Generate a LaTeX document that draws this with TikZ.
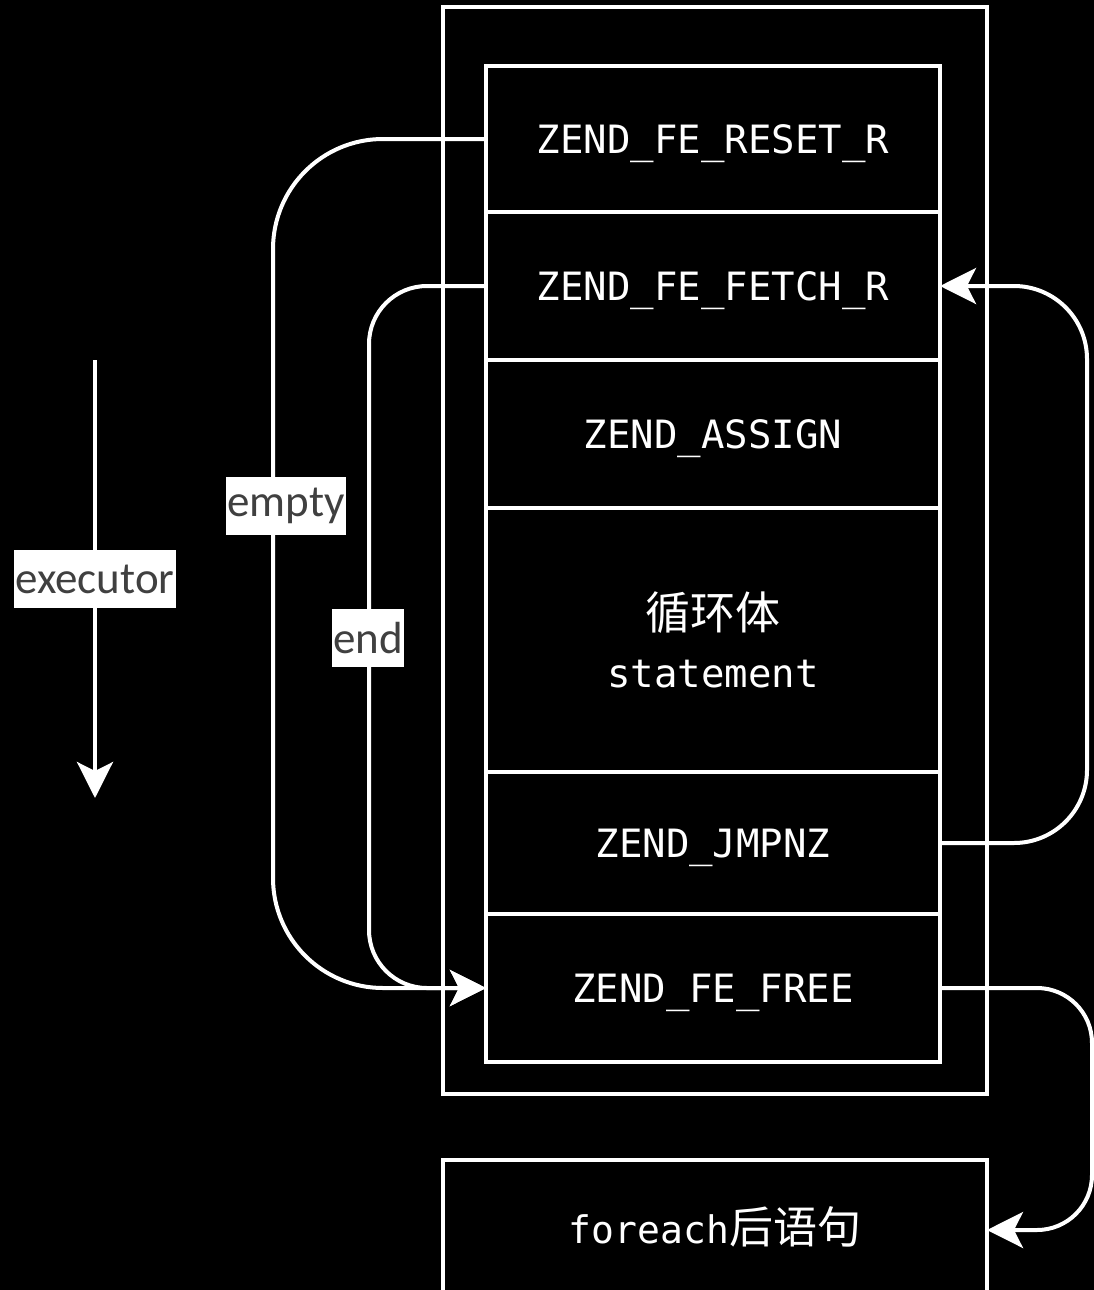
\documentclass[tikz,border=0pt]{standalone}
\usepackage{fontspec}
\setmonofont{DejaVu Sans Mono}
\setsansfont{Carlito}
\newfontfamily\cjk{Noto Sans CJK SC}
\usetikzlibrary{positioning,arrows.meta}

\tikzset{
  op/.style={draw=white, line width=4pt, outer sep=0pt, minimum width=454pt,
    text=white, align=center, text height=28pt, text depth=0pt,
    font=\ttfamily\fontsize{39}{58}\selectfont},
  flow/.style={draw=white, line width=4pt, -{Stealth[length=36pt,width=36pt,inset=9pt]}},
  tag/.style={fill=white, text=black!75, inner sep=1pt, minimum height=58pt,
    font=\sffamily\fontsize{45}{54}\selectfont}
}

\begin{document}
\begin{tikzpicture}[x=1pt,y=-1pt]
\fill[black] (0,0) rectangle (1094,1290);
\useasboundingbox (0,0) rectangle (1094,1290);

% opcodes
\draw[white, line width=4pt] (443,7) rectangle (987,1094);
\node[op, minimum height=146pt, anchor=north] (reset) at (713,66) {ZEND\_FE\_RESET\_R};
\node[op, minimum height=148pt, below=0pt of reset] (fetch) {ZEND\_FE\_FETCH\_R};
\node[op, minimum height=148pt, below=0pt of fetch] (assign) {ZEND\_ASSIGN};
\node[op, minimum height=264pt, below=0pt of assign, text height=, text depth=] (body) {{\cjk\fontsize{45}{58}\selectfont 循环体}\\statement};
\node[op, minimum height=142pt, below=0pt of body] (jmpnz) {ZEND\_JMPNZ};
\node[op, minimum height=148pt, below=0pt of jmpnz] (free) {ZEND\_FE\_FREE};
\node[op, minimum width=544pt, minimum height=140pt, anchor=north, text height=30pt, text depth=4pt,
  font=\ttfamily\fontsize{38}{42}\selectfont] (after) at (715,1160) {foreach{\cjk\fontsize{44}{44}\selectfont 后语句}};

% jumps
\draw[flow, rounded corners=110pt] (reset.west) -- ++(-213,0) |- (free.west);
\draw[flow, rounded corners=58pt] (fetch.west) -- ++(-117,0) |- (free.west);
\draw[flow, rounded corners=73pt] (jmpnz.east) -- ++(147,0) |- (fetch.east);
\draw[flow, rounded corners=55pt] (free.east) -- ++(152,0) |- (after.east);
\node[tag] (empty) at (286,506) {empty};
\node[tag] (end) at (368,638) {end};

% direction
\coordinate (start) at (95,360);
\coordinate (stop) at (95,798);
\draw[flow] (start) -- (stop) node[tag, midway] (exec) {executor};
\end{tikzpicture}
\end{document}
